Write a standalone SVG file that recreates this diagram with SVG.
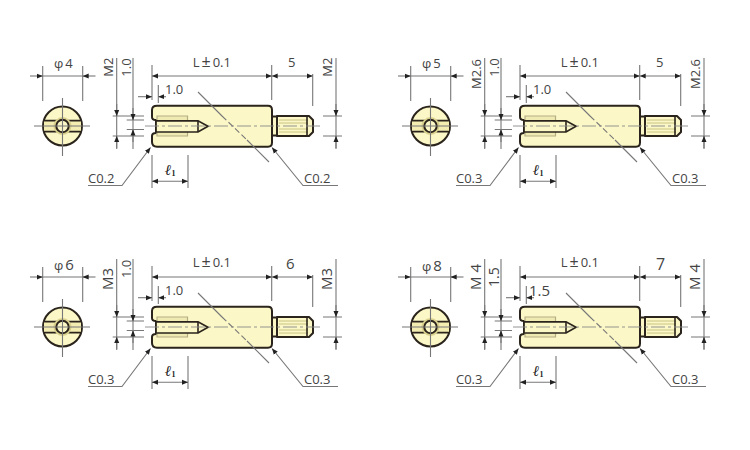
<svg xmlns="http://www.w3.org/2000/svg" width="750" height="450" viewBox="0 0 750 450">
<style>
text{font-family:"Open Sans","Liberation Sans",sans-serif;font-size:13px;fill:#444}
.d{stroke:#777;stroke-width:1.1;fill:none}
.a{stroke:#777;stroke-width:1.1;fill:none;marker-end:url(#a)}
.aa{stroke:#777;stroke-width:1.1;fill:none;marker-start:url(#a);marker-end:url(#a)}
.o{stroke:#2a241c;stroke-width:2;fill:#fbf7c6;stroke-linejoin:round}
.t{stroke:#2a241c;stroke-width:1.600;fill:none}
.h{stroke:#b5ae85;stroke-width:1.200;fill:#efe9b2}
.c{stroke:#888;stroke-width:.9;fill:none;stroke-dasharray:14 3 3 3}
.b{font-family:"Liberation Serif",serif;font-weight:bold;font-style:italic;font-size:15px;fill:#222}
.s{font-size:8px;font-weight:bold;font-style:normal}
.big{font-size:15px}
.pm{font-size:16px}
</style>
<defs>
<marker id="a" viewBox="0 0 6 6" refX="6" refY="3" markerWidth="6" markerHeight="6" orient="auto-start-reverse" markerUnits="userSpaceOnUse"><path d="M0 .5L6 3L0 5.500Z" fill="#222"/></marker>
<g id="end">
<circle class="o" cx="62.500" cy="126" r="19.500"/>
<path d="M44 120.800H81V131.600H44Z" fill="#f3edb2"/>
<path d="M43.500 120.700H81.500M43.500 131.700H81.500" stroke="#2a241c" stroke-width="1.700"/>
<circle cx="62.500" cy="126" r="9" fill="#d9d08e"/>
<circle cx="62.500" cy="126" r="6.200" fill="#fbf7c6" stroke="#2a241c" stroke-width="2"/>
<path class="d" d="M34 126H90M62.500 98V156" stroke-width=".9"/>
<path class="d" d="M42.700 66V101M82.700 66V101M42.700 76H82.700"/>
<path class="a" d="M30 76H42.700"/>
<path class="a" d="M95.500 76H82.700"/>
</g>
<g id="body">
<path class="o" d="M157 105.700H268Q272 105.700 272 110V142.500Q272 146.700 268 146.700H157Q152 146.700 152 142V136Q152 133 156 133V120Q152 120 152 117V110Q152 105.700 157 105.700Z"/>
<path class="o" d="M272 116.500H277V135.500H272Z"/>
<path class="o" d="M277 116H309L313 120V132L309 136H277Z"/>
<path d="M279 120H308M279 123H308M279 129H308M279 132H308" stroke="#c4bd7c" stroke-width=".9"/>
<path class="t" d="M307 116V136" stroke="#666" stroke-width="1"/>
<path class="h" d="M157 116H187.500V136H157Z"/>
<path d="M156 120.800H198L208 126.300L198 132H156Z" fill="#fbf7c6" stroke="#2a241c" stroke-width="1.700"/>
<path class="t" d="M198 120.800V132" stroke-width="1"/>
<path class="c" d="M145 126H322"/>
<path class="d" d="M198 92L222 116M269 162L247 140"/>
<path class="d" stroke-dasharray="6 3" d="M222 116L247 140"/>
</g>
<g id="dims">
<path class="d" d="M116.700 58V149M133 58V149M112.700 116H144M112.700 136H144M126.700 120H144M126.700 129.500H144"/>
<path class="a" d="M116.700 104V116"/><path class="a" d="M116.700 148V136"/>
<path class="a" d="M133 108V120"/><path class="a" d="M133 142V129.500"/>
<path class="d" d="M152 65V100M271.700 65V100M312.700 74V106M152 155V188M188 155V188M158.300 85V103"/>
<path class="aa" d="M152 76H271.700"/>
<path class="aa" d="M271.700 76H312.700"/>
<path class="aa" d="M152 181.300H188"/>
<path class="a" d="M138 96.700H152"/><path class="a" d="M166 96.700H158.300"/>
<path class="d" d="M336 58V149M323 116H342M323 136H342"/>
<path class="a" d="M336 104V116"/><path class="a" d="M336 148V136"/>
<path class="a" d="M88 185.500H122L150.500 147.500"/>
<path class="a" d="M338 185.500H303L272 147.500"/>
</g>
<g id="part"><use href="#end"/><use href="#body"/><use href="#dims"/></g>
</defs>
<rect width="750" height="450" fill="#fff"/>
<g id="part-1">
<use href="#part"/>
<text x="54" y="68">φ<tspan dx="2">4</tspan></text>
<text transform="translate(112.700 76.700) rotate(-90)">M2</text>
<text transform="translate(131 76.700) rotate(-90)">1.0</text>
<text x="192.700" y="67">L<tspan class="pm" dx="2">±</tspan><tspan dx="2">0.1</tspan></text><text x="288" y="67">5</text>
<text transform="translate(331.700 76.700) rotate(-90)">M2</text>
<text x="165" y="94">1.0</text>
<text class="b" x="165" y="175">ℓ<tspan class="s" dy="1">1</tspan></text>
<text x="88" y="182.700">C0.2</text><text x="304" y="182.700">C0.2</text>
</g>
<g id="part-2" transform="translate(368 0)">
<use href="#part"/>
<text x="54" y="68">φ<tspan dx="2">5</tspan></text>
<text transform="translate(112.700 89) rotate(-90)">M2.6</text>
<text transform="translate(131 76.700) rotate(-90)">1.0</text>
<text x="192.700" y="67">L<tspan class="pm" dx="2">±</tspan><tspan dx="2">0.1</tspan></text><text x="288" y="67">5</text>
<text transform="translate(331.700 89) rotate(-90)">M2.6</text>
<text x="165" y="94">1.0</text>
<text class="b" x="165" y="175">ℓ<tspan class="s" dy="1">1</tspan></text>
<text x="88" y="182.700">C0.3</text><text x="304" y="182.700">C0.3</text>
</g>
<g id="part-3" transform="translate(0 201)">
<use href="#part"/>
<text x="54" y="68.500">φ<tspan class="big" dx="2">6</tspan></text>
<text class="big" transform="translate(112.700 89) rotate(-90)">M3</text>
<text transform="translate(131 77) rotate(-90)">1.0</text>
<text x="192.700" y="66">L<tspan class="pm" dx="2">±</tspan><tspan dx="2">0.1</tspan></text><text class="big" x="286" y="68">6</text>
<text class="big" transform="translate(331.700 89) rotate(-90)">M3</text>
<text x="165" y="94">1.0</text>
<text class="b" x="165" y="175">ℓ<tspan class="s" dy="1">1</tspan></text>
<text x="88" y="182.700">C0.3</text><text x="304" y="182.700">C0.3</text>
</g>
<g id="part-4" transform="translate(368 201)">
<use href="#part"/>
<text x="54" y="69.500">φ<tspan class="big" dx="2">8</tspan></text>
<text class="big" transform="translate(112.700 89) rotate(-90)">M 4</text>
<text style="font-size:14px" transform="translate(131 86) rotate(-90)">1.5</text>
<text x="192.700" y="66">L<tspan class="pm" dx="2">±</tspan><tspan dx="2">0.1</tspan></text><text class="big" x="288" y="69" style="font-size:16px">7</text>
<text class="big" transform="translate(331.700 89) rotate(-90)">M 4</text>
<text class="big" x="161" y="95">1.5</text>
<text class="b" x="165" y="175">ℓ<tspan class="s" dy="1">1</tspan></text>
<text x="88" y="182.700">C0.3</text><text x="304" y="182.700">C0.3</text>
</g>
</svg>
